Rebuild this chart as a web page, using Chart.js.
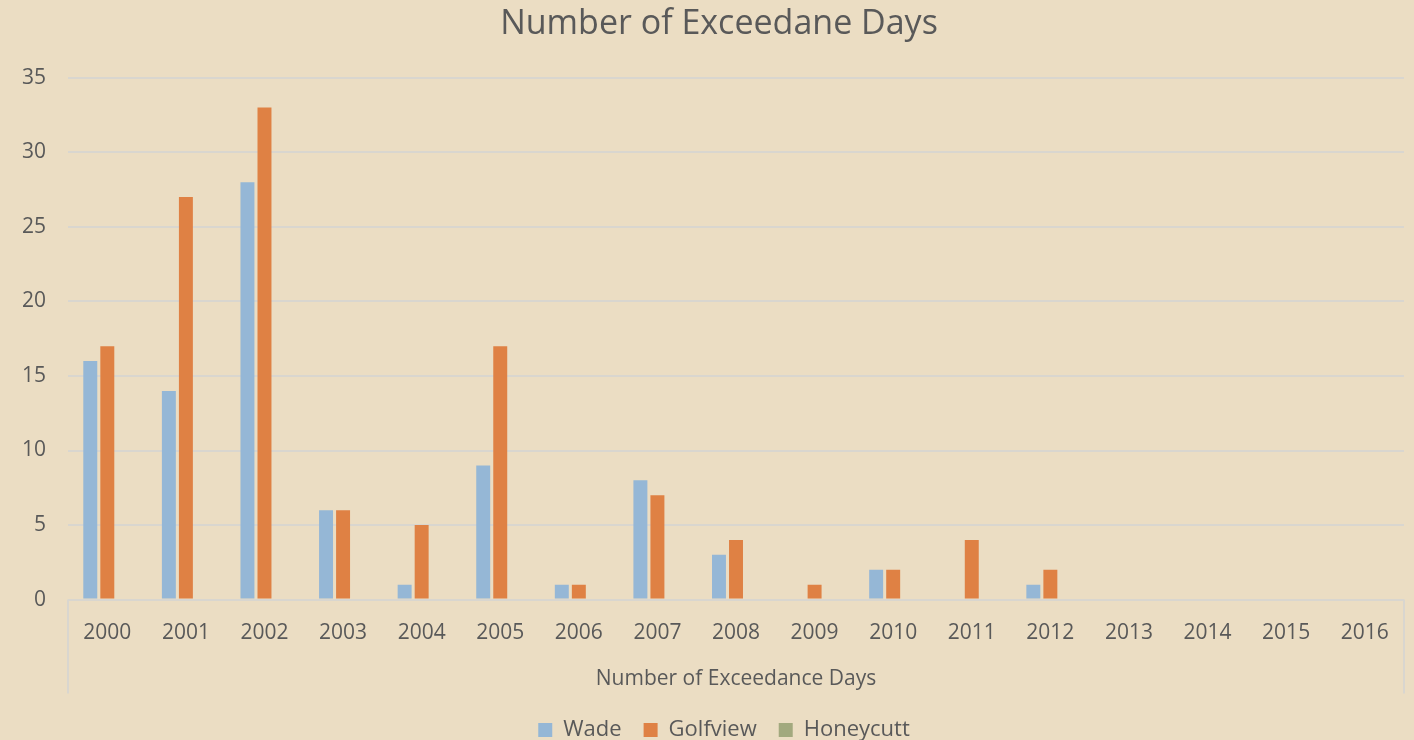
<!DOCTYPE html>
<html>
<head>
<meta charset="utf-8">
<script src="https://cdn.jsdelivr.net/npm/chart.js@4"></script>
<style>
  html, body { margin: 0; padding: 0; background: #EBDDC3; }
  #wrap { width: 1414px; height: 740px; }
</style>
</head>
<body>
<div id="wrap"><canvas id="c" width="1414" height="740"></canvas></div>
<script>
const categories = ['2000','2001','2002','2003','2004','2005','2006','2007','2008','2009','2010','2011','2012','2013','2014','2015','2016'];
const wade      = [16, 14, 28, 6, 1, 9, 1, 8, 3, 0, 2, 0, 1, 0, 0, 0, 0];
const golfview  = [17, 27, 33, 6, 5, 17, 1, 7, 4, 1, 2, 4, 2, 0, 0, 0, 0];
const honeycutt = [0, 0, 0, 0, 0, 0, 0, 0, 0, 0, 0, 0, 0, 0, 0, 0, 0];
const seriesNames = ['Wade', 'Golfview', 'Honeycutt'];
const chartTitle = 'Number of Exceedane Days';
const xAxisTitle = 'Number of Exceedance Days';

const FONT = '"Open Sans", "Noto Sans", sans-serif';
const TEXT = '#595959';
const GRID = '#D9D6CF';

const bgPlugin = {
  id: 'bg',
  beforeDraw(chart) {
    const ctx = chart.ctx;
    ctx.save();
    ctx.fillStyle = '#EBDDC3';
    ctx.fillRect(0, 0, chart.width, chart.height);
    ctx.restore();
    const a = chart.chartArea;
    const mid = (a.left + a.right) / 2;
    // legend centred slightly left of the plot centre, title slightly left too
    const lg = chart.legend;
    if (lg) {
      const w = lg.right - lg.left;
      lg.left = mid - 12 - w / 2;
      lg.right = lg.left + w;
    }
    const tb = chart.titleBlock;
    if (tb) {
      const w = tb.right - tb.left;
      tb.left = mid - 17 - w / 2;
      tb.right = tb.left + w;
    }
  }
};
const boxPlugin = {
  id: 'catbox',
  afterDraw(chart) {
    const a = chart.chartArea, ctx = chart.ctx;
    ctx.save();
    ctx.strokeStyle = GRID;
    ctx.lineWidth = 2;
    ctx.beginPath();
    ctx.moveTo(a.left, a.bottom); ctx.lineTo(a.left, a.bottom + 94);
    ctx.moveTo(a.right, a.bottom); ctx.lineTo(a.right, a.bottom + 94);
    ctx.stroke();
    ctx.restore();
  }
};

new Chart(document.getElementById('c'), {
  type: 'bar',
  data: {
    labels: categories,
    datasets: [
      { label: seriesNames[0], data: wade, backgroundColor: '#95B7D6', borderWidth: 0 },
      { label: seriesNames[1], data: golfview, backgroundColor: '#DF8144', borderWidth: 0 },
      { label: seriesNames[2], data: honeycutt, backgroundColor: '#A2A97E', borderWidth: 0 }
    ]
  },
  options: {
    responsive: false,
    animation: false,
    devicePixelRatio: 1,
    categoryPercentage: 0.65,
    barPercentage: 0.82,
    layout: { padding: { left: 0, right: 10, top: 4, bottom: -11 } },
    plugins: {
      title: {
        display: true, text: chartTitle, color: TEXT,
        font: { family: FONT, size: 34, weight: 'normal' }, padding: { top: 0, bottom: 33 }
      },
      legend: {
        position: 'bottom',
        labels: {
          color: TEXT, font: { family: FONT, size: 22 },
          boxWidth: 14, boxHeight: 14, padding: 22
        }
      },
      tooltip: { enabled: false }
    },
    scales: {
      x: {
        grid: { display: false, drawTicks: false },
        border: { display: false },
        ticks: { color: TEXT, font: { family: FONT, size: 21 }, padding: 21, maxRotation: 0 },
        title: { display: true, text: xAxisTitle, color: TEXT, font: { family: FONT, size: 21 }, padding: { top: 0, bottom: 5 } }
      },
      y: {
        min: 0, max: 35,
        ticks: { stepSize: 5, color: TEXT, font: { family: FONT, size: 21 }, padding: 22 },
        grid: { color: GRID, lineWidth: 2, drawTicks: false },
        border: { display: false }
      }
    }
  },
  plugins: [bgPlugin, boxPlugin]
});
</script>
</body>
</html>
